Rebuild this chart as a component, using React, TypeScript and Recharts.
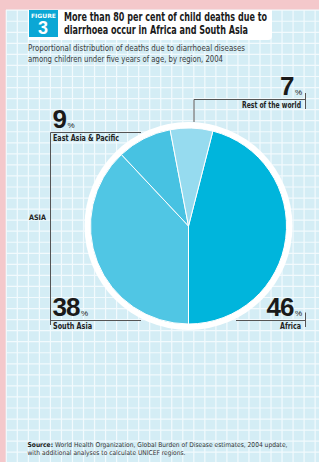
import React from "react"
import { PieChart, Pie, Cell } from "recharts"

// share of under-five diarrhoeal deaths by region, 2004 (per cent)
const regions = ["Africa", "South Asia", "East Asia & Pacific", "Rest of the world"]
const shares = [46, 38, 9, 7]
const sliceColors = ["#00b5dc", "#50c6e4", "#47c2e2", "#96dbef"]

const titleLines = [
  "More than 80 per cent of child deaths due to",
  "diarrhoea occur in Africa and South Asia",
]
const subtitleLines = [
  "Proportional distribution of deaths due to diarrhoeal diseases",
  "among children under five years of age, by region, 2004",
]
const sourceLines = [
  "World Health Organization, Global Burden of Disease estimates, 2004 update,",
  "with additional analyses to calculate UNICEF regions.",
]

const W = 319
const H = 462
const CX = 188.5
const CY = 226
const R = 98

const narrow = "'Liberation Sans Narrow', 'DejaVu Sans Condensed', 'Arial Narrow', sans-serif"
const sans = "'Liberation Sans', Arial, sans-serif"

function Background() {
  const vLines: number[] = []
  for (let x = 6.3; x < W; x += 11.03) vLines.push(x)
  const hLines: number[] = []
  for (let y = 10.2; y < H; y += 11.05) hLines.push(y)
  return (
    <svg width={W} height={H} style={{ position: "absolute", left: 0, top: 0 }}>
      <rect x={0} y={0} width={W} height={H} fill="#f4c8cb" />
      <rect x={6} y={10} width={W - 6} height={H - 10} fill="#d4edf5" />
      {vLines.map((x, i) => (
        <line key={"v" + i} x1={x} x2={x} y1={10} y2={H} stroke="#f2fafd" strokeWidth={1.2} />
      ))}
      {hLines.map((y, i) => (
        <line key={"h" + i} x1={6} x2={W} y1={y} y2={y} stroke="#f2fafd" strokeWidth={1.2} />
      ))}
      {/* title box */}
      <path d="M28 10 H272 V36 Q272 40 268 40 H28 Z" fill="#ffffff" />
      <rect x={29} y={10} width={29} height={27} fill="#0ba7d5" />
      {/* white ring around the pie */}
      <circle cx={CX} cy={CY} r={104} fill="#ffffff" />
    </svg>
  )
}

function Pct({ x, y, value, anchor }: { x: number; y: number; value: number; anchor: "start" | "end" }) {
  return (
    <text x={x} y={y} textAnchor={anchor} fontFamily={sans} fill="#1a1a1a">
      <tspan fontSize={26} fontWeight="bold" letterSpacing={-1}>{value}</tspan>
      <tspan fontSize={8} dx={1.5}>%</tspan>
    </text>
  )
}

function Overlay() {
  const lbl = { fontFamily: narrow, fontWeight: "bold" as const, fontSize: 8, fill: "#222" }
  const ln = { stroke: "#555", strokeWidth: 1 }
  return (
    <svg width={W} height={H} style={{ position: "absolute", left: 0, top: 0, pointerEvents: "none" }}>
      {/* figure badge */}
      <text x={43.5} y={17.6} textAnchor="middle" fontFamily={narrow} fontWeight="bold" fontSize={5.8} fill="#fff" textLength={25} lengthAdjust="spacingAndGlyphs">FIGURE</text>
      <text x={43} y={34.3} textAnchor="middle" fontFamily={sans} fontWeight="bold" fontSize={18} fill="#fff">3</text>
      {/* title */}
      <text x={64} y={20.8} fontFamily={narrow} fontWeight="bold" fontSize={11.6} fill="#1a1a1a" textLength={203} lengthAdjust="spacingAndGlyphs">{titleLines[0]}</text>
      <text x={64} y={33.6} fontFamily={narrow} fontWeight="bold" fontSize={11.6} fill="#1a1a1a" textLength={184} lengthAdjust="spacingAndGlyphs">{titleLines[1]}</text>
      {/* subtitle */}
      <text x={28} y={50.8} fontFamily={narrow} fontSize={8.6} fill="#3a3a3a" textLength={217} lengthAdjust="spacingAndGlyphs">{subtitleLines[0]}</text>
      <text x={28} y={62.4} fontFamily={narrow} fontSize={8.6} fill="#3a3a3a" textLength={195} lengthAdjust="spacingAndGlyphs">{subtitleLines[1]}</text>

      {/* Rest of the world */}
      <Pct x={302} y={95} value={shares[3]} anchor="end" />
      <line x1={194} x2={305.5} y1={99.5} y2={99.5} {...ln} />
      <line x1={194} x2={194} y1={99.5} y2={122} {...ln} />
      <line x1={305.5} x2={305.5} y1={93} y2={109} {...ln} />
      <text x={301} y={107.5} textAnchor="end" {...lbl} textLength={59} lengthAdjust="spacingAndGlyphs">{regions[3]}</text>

      {/* East Asia & Pacific */}
      <Pct x={52.5} y={128.3} value={shares[2]} anchor="start" />
      <line x1={50.5} x2={141} y1={132.5} y2={132.5} {...ln} />
      <text x={53} y={141.3} {...lbl} textLength={66} lengthAdjust="spacingAndGlyphs">{regions[2]}</text>

      {/* Asia bracket */}
      <line x1={50.5} x2={50.5} y1={132.5} y2={325} {...ln} />
      <text x={29} y={219.8} {...lbl} fontSize={7.5} textLength={17} lengthAdjust="spacingAndGlyphs">ASIA</text>

      {/* South Asia */}
      <Pct x={52.5} y={315.7} value={shares[1]} anchor="start" />
      <line x1={50.5} x2={141} y1={320.5} y2={320.5} {...ln} />
      <text x={53} y={328.5} {...lbl} textLength={39} lengthAdjust="spacingAndGlyphs">{regions[1]}</text>

      {/* Africa */}
      <Pct x={302} y={315.7} value={shares[0]} anchor="end" />
      <line x1={236} x2={305.5} y1={320.5} y2={320.5} {...ln} />
      <line x1={305.5} x2={305.5} y1={312.5} y2={327} {...ln} />
      <text x={301} y={328.5} textAnchor="end" {...lbl} textLength={21} lengthAdjust="spacingAndGlyphs">{regions[0]}</text>

      {/* source */}
      <text x={27.5} y={446.5} fontFamily={narrow} fontSize={6.6} fill="#333" textLength={260} lengthAdjust="spacingAndGlyphs">
        <tspan fontWeight="bold" fill="#1a1a1a">Source: </tspan>
        <tspan>{sourceLines[0]}</tspan>
      </text>
      <text x={27.5} y={455} fontFamily={narrow} fontSize={6.6} fill="#333" textLength={158} lengthAdjust="spacingAndGlyphs">{sourceLines[1]}</text>
    </svg>
  )
}

export default function App() {
  const data = regions.map((name, i) => ({ name, value: shares[i] }))
  return (
    <div style={{ position: "absolute", left: 0, top: 0, width: W, height: H, overflow: "hidden" }}>
      <Background />
      <div style={{ position: "absolute", left: 0, top: 0 }}>
        <PieChart width={W} height={H} margin={{ top: 0, right: 0, bottom: 0, left: 0 }}>
          <Pie
            data={data}
            dataKey="value"
            nameKey="name"
            cx={CX}
            cy={CY}
            innerRadius={0}
            outerRadius={R}
            startAngle={75.6}
            endAngle={-284.4}
            stroke="#ffffff"
            strokeWidth={1}
            label={false}
            labelLine={false}
            isAnimationActive={false}
          >
            {data.map((d, i) => (
              <Cell key={d.name} fill={sliceColors[i]} />
            ))}
          </Pie>
        </PieChart>
      </div>
      <Overlay />
    </div>
  )
}
